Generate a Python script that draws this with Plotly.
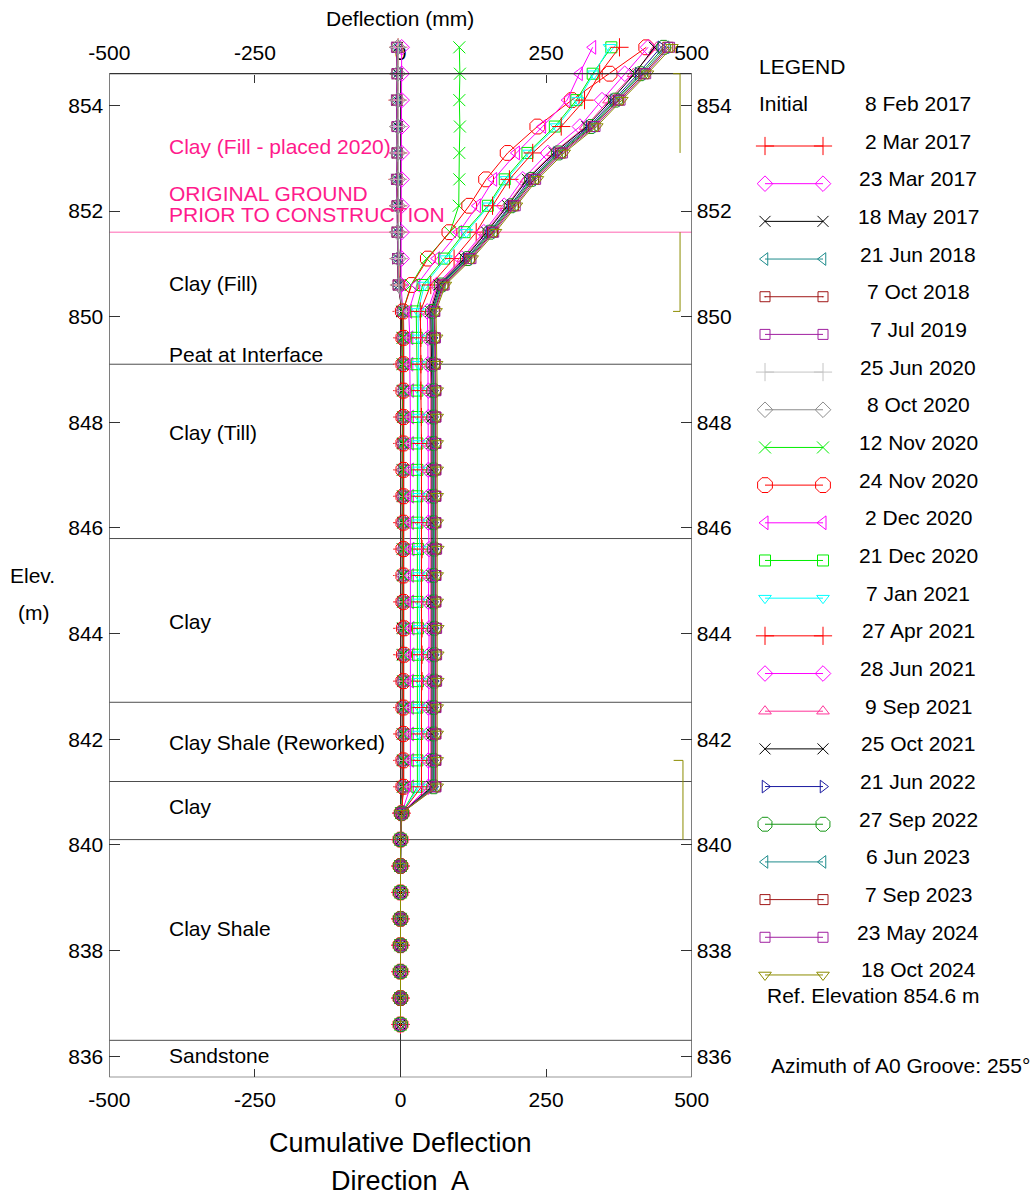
import plotly.graph_objects as go

W, H = 1036, 1198

# ---------------------------------------------------------------- data
elevation = [855.1, 854.6, 854.1, 853.6, 853.1, 852.6, 852.1, 851.6, 851.1, 850.6,
             850.1, 849.6, 849.1, 848.6, 848.1, 847.6, 847.1, 846.6, 846.1, 845.6,
             845.1, 844.6, 844.1, 843.6, 843.1, 842.6, 842.1, 841.6, 841.1, 840.6,
             840.1, 839.6, 839.1, 838.6, 838.1, 837.6, 837.1, 836.6]

reading_dates = ["2 Mar 2017", "23 Mar 2017", "18 May 2017", "21 Jun 2018", "7 Oct 2018",
                 "7 Jul 2019", "25 Jun 2020", "8 Oct 2020", "12 Nov 2020", "24 Nov 2020",
                 "2 Dec 2020", "21 Dec 2020", "7 Jan 2021", "27 Apr 2021", "28 Jun 2021",
                 "9 Sep 2021", "25 Oct 2021", "21 Jun 2022", "27 Sep 2022", "6 Jun 2023",
                 "7 Sep 2023", "23 May 2024", "18 Oct 2024"]

# cumulative deflection (mm), top of casing to bottom, one list per reading
d_2mar2017 = [-4, -4, -5, -4, -4, -5, -4, -4, -3, -2,
              2, 3, 3, 3, 3, 3, 3, 3, 3, 3, 3, 3, 3, 3, 3, 3, 3, 3, 3,
              1, 0, 0, 0, 0, 0, 0, 0, 0]
d_23mar2017 = [2, 2, 2, 2, 2, 2, 2, 2, 2, 1,
               4, 5, 5, 6, 5, 5, 6, 5, 5, 6, 6, 5, 6, 6, 5, 5, 6, 5, 5,
               1, 0, 0, 0, 0, 0, 0, 0, 0]
d_18may2017 = [-5, -5, -6, -5, -5, -6, -5, -5, -4, -3,
               2, 3, 3, 3, 4, 3, 3, 3, 4, 3, 3, 4, 3, 3, 4, 3, 3, 3, 3,
               1, 0, 0, 0, 0, 0, 0, 0, 0]
d_21jun2018 = [-6, -5, -6, -6, -5, -6, -6, -5, -5, -4,
               3, 4, 4, 4, 4, 4, 4, 4, 4, 5, 4, 4, 4, 5, 4, 4, 4, 4, 4,
               1, 0, 0, 0, 0, 0, 0, 0, 0]
d_7oct2018 = [-6, -6, -6, -6, -6, -6, -6, -6, -5, -4,
              3, 4, 4, 5, 4, 4, 5, 4, 4, 5, 5, 4, 5, 5, 4, 4, 5, 4, 4,
              1, 0, 0, 0, 0, 0, 0, 0, 0]
d_7jul2019 = [-7, -6, -7, -6, -6, -7, -6, -6, -5, -4,
              4, 5, 5, 5, 5, 5, 5, 5, 5, 6, 5, 5, 6, 6, 5, 5, 5, 5, 5,
              1, 0, 0, 0, 0, 0, 0, 0, 0]
d_25jun2020 = [-4, -4, -4, -4, -4, -4, -4, -4, -3, -3,
               4, 5, 5, 5, 5, 5, 5, 5, 6, 6, 5, 6, 6, 6, 5, 5, 6, 5, 5,
               1, 0, 0, 0, 0, 0, 0, 0, 0]
d_8oct2020 = [-5, -5, -5, -5, -5, -5, -5, -5, -4, -3,
              5, 6, 6, 6, 6, 6, 6, 6, 6, 7, 6, 6, 7, 7, 6, 6, 6, 6, 6,
              1, 0, 0, 0, 0, 0, 0, 0, 0]
d_12nov2020 = [101, 102, 101, 102, 101, 101, 100, 85, 45, 18,
               4, 4, 4, 5, 5, 5, 5, 5, 5, 5, 5, 5, 5, 5, 5, 5, 5, 5, 5,
               1, 0, 0, 0, 0, 0, 0, 0, 0]
d_24nov2020 = [422, 359, 294, 235, 184, 147, 118, 84, 47, 19,
               4, 5, 5, 5, 5, 5, 5, 5, 5, 5, 5, 5, 6, 6, 5, 5, 5, 5, 5,
               2, 0, 0, 0, 0, 0, 0, 0, 0]
d_2dec2020 = [330, 307, 286, 244, 199, 160, 132, 100, 62, 28,
              14, 16, 16, 17, 17, 17, 17, 17, 17, 18, 17, 17, 18, 18, 17, 17, 17, 17, 17,
              2, 0, 0, 0, 0, 0, 0, 0, 0]
d_21dec2020 = [362, 330, 302, 265, 218, 179, 150, 110, 75, 38,
               27, 28, 28, 29, 29, 29, 29, 29, 29, 30, 29, 29, 30, 30, 30, 29, 29, 29, 29,
               2, 0, 0, 0, 0, 0, 0, 0, 0]
d_7jan2021 = [359, 332, 305, 268, 221, 182, 152, 113, 78, 41,
              30, 31, 31, 32, 32, 32, 32, 32, 32, 33, 32, 32, 33, 33, 33, 32, 32, 32, 32,
              2, 0, 0, 0, 0, 0, 0, 0, 0]
d_27apr2021 = [376, 342, 316, 276, 227, 187, 158, 130, 92, 52,
               34, 35, 35, 35, 36, 36, 36, 36, 36, 37, 36, 36, 37, 37, 37, 36, 36, 36, 36,
               2, 0, 0, 0, 0, 0, 0, 0, 0]
d_28jun2021 = [425, 385, 346, 308, 253, 210, 178, 143, 105, 62,
               46, 47, 47, 48, 48, 48, 48, 48, 48, 49, 48, 48, 49, 49, 49, 48, 48, 48, 48,
               2, 0, 0, 0, 0, 0, 0, 0, 0]
d_9sep2021 = [440, 400, 358, 318, 262, 216, 182, 146, 108, 64,
              50, 51, 51, 52, 52, 52, 52, 52, 52, 53, 52, 52, 53, 53, 53, 52, 52, 52, 52,
              2, 0, 0, 0, 0, 0, 0, 0, 0]
d_25oct2021 = [436, 402, 362, 320, 264, 218, 184, 148, 110, 66,
               52, 53, 53, 54, 54, 54, 54, 54, 54, 55, 54, 54, 55, 55, 55, 54, 54, 54, 54,
               2, 0, 0, 0, 0, 0, 0, 0, 0]
d_21jun2022 = [447, 408, 366, 324, 268, 222, 188, 152, 113, 68,
               54, 55, 55, 56, 56, 56, 56, 56, 56, 57, 56, 56, 57, 57, 57, 56, 56, 56, 56,
               2, 0, 0, 0, 0, 0, 0, 0, 0]
d_27sep2022 = [452, 412, 369, 327, 271, 225, 190, 154, 115, 70,
               55, 56, 56, 57, 57, 57, 57, 57, 57, 58, 57, 57, 58, 58, 58, 57, 57, 57, 57,
               2, 0, 0, 0, 0, 0, 0, 0, 0]
d_6jun2023 = [456, 415, 371, 329, 273, 227, 192, 156, 117, 72,
              56, 57, 57, 58, 58, 58, 58, 58, 58, 59, 58, 58, 59, 59, 59, 58, 58, 58, 58,
              2, 0, 0, 0, 0, 0, 0, 0, 0]
d_7sep2023 = [459, 418, 374, 331, 275, 229, 194, 158, 119, 73,
              58, 59, 59, 60, 60, 60, 60, 60, 60, 61, 60, 60, 61, 61, 61, 60, 60, 60, 60,
              2, 0, 0, 0, 0, 0, 0, 0, 0]
d_23may2024 = [462, 421, 377, 334, 278, 232, 197, 160, 121, 75,
               59, 60, 60, 61, 61, 61, 61, 61, 61, 62, 61, 61, 62, 62, 62, 61, 61, 61, 61,
               2, 0, 0, 0, 0, 0, 0, 0, 0]
d_18oct2024 = [466, 424, 380, 337, 281, 235, 199, 163, 123, 77,
               61, 62, 62, 63, 63, 63, 63, 63, 63, 64, 63, 63, 64, 64, 64, 63, 63, 63, 63,
               2, 0, 0, 0, 0, 0, 0, 0, 0]

readings = [d_2mar2017, d_23mar2017, d_18may2017, d_21jun2018, d_7oct2018, d_7jul2019,
            d_25jun2020, d_8oct2020, d_12nov2020, d_24nov2020, d_2dec2020, d_21dec2020,
            d_7jan2021, d_27apr2021, d_28jun2021, d_9sep2021, d_25oct2021, d_21jun2022,
            d_27sep2022, d_6jun2023, d_7sep2023, d_23may2024, d_18oct2024]

# stratigraphy
layer_tops = [851.6, 849.1, 845.8, 842.7, 841.2, 840.1, 836.3]
layer_names = ["Clay (Fill)", "Peat at Interface", "Clay (Till)", "Clay",
               "Clay Shale (Reworked)", "Clay", "Clay Shale", "Sandstone"]
layer_label_elev = [850.62, 849.29, 847.81, 844.22, 841.93, 840.72, 838.41, 836.02]

x_ticks = [-500, -250, 0, 250, 500]
x_tick_text = ["-500", "-250", "0", "250", "500"]
y_ticks = [836, 838, 840, 842, 844, 846, 848, 850, 852, 854]

ref_elevation = 854.6
bottom_elevation = 835.6

# ---------------------------------------------------------------- styles
RED, MAG, BLK, TEAL = "#ff0000", "#ff00ff", "#000000", "#1f8c8c"
DRED, PURP, LGRY, GRY = "#a01818", "#a020a0", "#c4c4c4", "#8c8c8c"
GRN, CYAN, PINK, NAVY = "#00ee00", "#00ffff", "#ff3399", "#1a1aa0"
DGRN, OLIVE = "#149614", "#8c8c00"

styles = [
    (RED, "cross-thin-open", 13), (MAG, "diamond-open", 12), (BLK, "x-thin-open", 11),
    (TEAL, "triangle-left-open", 11), (DRED, "square-open-dot", 10), (PURP, "square-open", 10),
    (LGRY, "cross-thin-open", 13), (GRY, "diamond-open", 12), (GRN, "x-thin-open", 12),
    (RED, "octagon-open", 16), (MAG, "triangle-left-open", 12), (GRN, "square-open", 11),
    (CYAN, "triangle-down-open", 11), (RED, "cross-thin-open", 13), (MAG, "diamond-open", 12),
    (PINK, "triangle-up-open", 11), (BLK, "x-thin-open", 11), (NAVY, "triangle-right-open", 11),
    (DGRN, "octagon-open", 15), (TEAL, "triangle-left-open", 11), (DRED, "square-open-dot", 10),
    (PURP, "square-open", 10), (OLIVE, "triangle-down-open", 11),
]

FONT = "Liberation Sans, Arial, sans-serif"
FS = 21

# page geometry (pixels)
PX_L, PX_R = 109.3, 691.7          # x = -500 / +500
PX_BOTTOM = 1077.3                 # elevation 835.6
PX_PER_M = 52.82
Y_TOP = 855.3                      # readings above the casing reference stay visible
px_top = PX_BOTTOM - (Y_TOP - bottom_elevation) * PX_PER_M
px_ref = PX_BOTTOM - (ref_elevation - bottom_elevation) * PX_PER_M

fig = go.Figure()

# profiles
for vals, (col, sym, size) in zip(readings, styles):
    fig.add_trace(go.Scatter(
        x=vals, y=elevation, mode="lines+markers",
        line=dict(color=col, width=1),
        marker=dict(symbol=sym, size=size, color=col, line=dict(color=col, width=1)),
        hoverinfo="skip", showlegend=False,
    ))

# empty traces so the mirrored axes get drawn
fig.add_trace(go.Scatter(x=[None], y=[None], xaxis="x2", yaxis="y", showlegend=False, hoverinfo="skip"))
fig.add_trace(go.Scatter(x=[None], y=[None], xaxis="x", yaxis="y2", showlegend=False, hoverinfo="skip"))

# legend block (pixel coordinates on an overlay axis pair)
LEG_X0, LEG_X1, LEG_TEXT_X = 765, 823, 918
LEG_ROW0, LEG_STEP = 141, 37.68
annotations = []
for i, (name, (col, sym, size)) in enumerate(zip(reading_dates, styles)):
    ty = LEG_ROW0 + i * LEG_STEP
    fig.add_trace(go.Scatter(
        x=[LEG_X0, LEG_X1], y=[ty + 5, ty + 5], mode="lines+markers",
        xaxis="x3", yaxis="y3",
        line=dict(color=col, width=1),
        marker=dict(symbol=sym, size=size, color=col, line=dict(color=col, width=1)),
        hoverinfo="skip", showlegend=False, cliponaxis=False,
    ))
    annotations.append(dict(x=LEG_TEXT_X, y=ty, xref="x3", yref="y3", text=name,
                            showarrow=False, xanchor="center", yanchor="middle",
                            font=dict(size=FS, family=FONT, color="black")))


def page_text(x, y, text, anchor="center", size=FS, color="black"):
    annotations.append(dict(x=x, y=y, xref="x3", yref="y3", text=text, showarrow=False,
                            xanchor=anchor, yanchor="middle",
                            font=dict(size=size, family=FONT, color=color)))


page_text(757, 66, "LEGEND", anchor="left")
page_text(757, 103, "Initial", anchor="left")
page_text(LEG_TEXT_X, 103, "8 Feb 2017")
page_text(873, 995, "Ref. Elevation 854.6 m")
page_text(900, 1065, "Azimuth of A0 Groove: 255°")
page_text(400, 18, "Deflection (mm)")
page_text(400, 1143, "Cumulative Deflection", size=27)
page_text(400, 1181, "Direction\u00a0 A", size=27)
page_text(32, 575, "Elev.")
page_text(33, 612, "(m)")

# stratigraphy labels
LABEL_X = -401
for name, ey in zip(layer_names, layer_label_elev):
    annotations.append(dict(x=LABEL_X, y=ey, xref="x", yref="y", text=name, showarrow=False,
                            xanchor="left", yanchor="middle",
                            font=dict(size=FS, family=FONT, color="black")))
for name, ey in [("Clay (Fill - placed 2020)", 853.23), ("ORIGINAL GROUND", 852.33),
                 ("PRIOR TO CONSTRUCTION", 851.94)]:
    annotations.append(dict(x=LABEL_X, y=ey, xref="x", yref="y", text=name, showarrow=False,
                            xanchor="left", yanchor="middle",
                            font=dict(size=FS, family=FONT, color="#ff1a8c")))

shapes = []
for i, top in enumerate(layer_tops):
    col = "#ff66b3" if i == 0 else "#4d4d4d"
    shapes.append(dict(type="line", xref="x", yref="y", x0=-500, x1=500, y0=top, y1=top,
                       line=dict(color=col, width=1), layer="below"))
# zero line
shapes.append(dict(type="line", xref="x", yref="y", x0=0, x1=0, y0=bottom_elevation,
                   y1=ref_elevation, line=dict(color="#333333", width=1), layer="below"))
# frame
shapes.append(dict(type="rect", xref="x", yref="y", x0=-500, x1=500, y0=bottom_elevation,
                   y1=ref_elevation, line=dict(color="#333333", width=1.2), layer="above"))
# groove / casing markers along the right edge
for path in ["M 468,854.6 L 480,854.6 L 480,853.1",
             "M 480,851.6 L 480,850.1 L 468,850.1",
             "M 469,841.6 L 485,841.6 L 485,840.1"]:
    shapes.append(dict(type="path", xref="x", yref="y", path=path,
                       line=dict(color=OLIVE, width=1), layer="above"))

tickfont = dict(size=FS, family=FONT, color="black")
xdom = [PX_L / W, PX_R / W]
ydom = [1 - PX_BOTTOM / H, 1 - px_top / H]
common = dict(showgrid=False, zeroline=False, showline=False, automargin=False,
              fixedrange=True, tickfont=tickfont, tickcolor="#333333", tickwidth=1)

fig.update_layout(
    template="none",
    width=W, height=H,
    margin=dict(l=0, r=0, t=0, b=0, pad=0, autoexpand=False),
    paper_bgcolor="white", plot_bgcolor="rgba(0,0,0,0)",
    showlegend=False,
    font=dict(family=FONT, size=FS, color="black"),
    xaxis=dict(domain=xdom, range=[-500, 500], tickvals=x_ticks, ticktext=x_tick_text,
               ticks="inside", ticklen=8, anchor="y", ticklabelstandoff=8, **common),
    xaxis2=dict(overlaying="x", range=[-500, 500], tickvals=x_ticks, ticktext=x_tick_text,
                side="top", anchor="free", position=1 - px_ref / H,
                ticks="inside", ticklen=8, layer="below traces", ticklabelstandoff=10,
                **common),
    yaxis=dict(domain=ydom, range=[bottom_elevation, Y_TOP], tickvals=y_ticks,
               ticks="inside", ticklen=11, anchor="x", ticklabelstandoff=5, **common),
    yaxis2=dict(overlaying="y", range=[bottom_elevation, Y_TOP], tickvals=y_ticks,
                side="right", anchor="x", ticks="inside", ticklen=11, ticklabelstandoff=4,
                **common),
    xaxis3=dict(domain=[0, 1], range=[0, W], visible=False, anchor="y3",
                automargin=False, fixedrange=True),
    yaxis3=dict(domain=[0, 1], range=[H, 0], visible=False, anchor="x3",
                automargin=False, fixedrange=True),
    annotations=annotations,
    shapes=shapes,
)

fig.write_html("out.html")
